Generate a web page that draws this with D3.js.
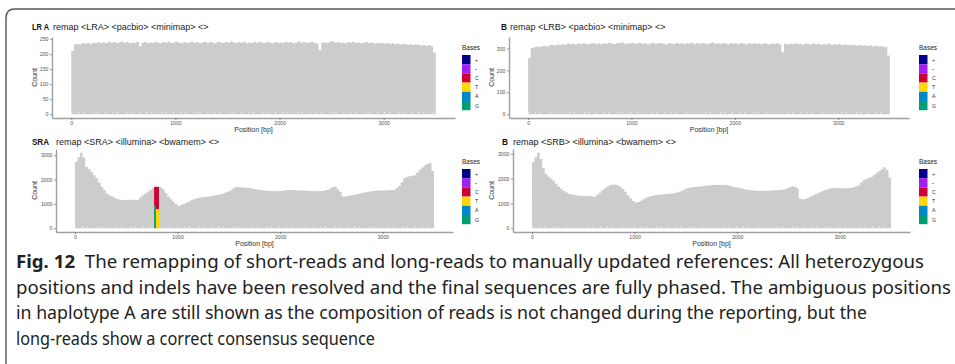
<!DOCTYPE html>
<html>
<head>
<meta charset="utf-8">
<script src="https://cdn.jsdelivr.net/npm/d3@7"></script>
<style>
  body { margin: 0; background: #fff; }
  svg text { font-family: 'Liberation Sans', Arial, sans-serif; }
</style>
</head>
<body>
<svg id="svg" width="955" height="364"></svg>
<script>
// bin width of each bar (bp), bars start at 0
var binWidth = 25;

var basesKeys = ['+', '-', 'C', 'T', 'A', 'G'];
var basesColors = ['#00008b', '#a020f0', '#cc0033', '#ffd700', '#0088c8', '#009e73'];

var xTicks = [0, 1000, 2000, 3000];
var yTicksLRA = [0, 50, 100, 150, 200, 250];
var yTicksLRB = [0, 100, 200, 300];
var yTicksSR = [0, 1000, 2000, 3000];

var countsLRA = [
  210, 232, 234, 233, 236, 235, 237, 234, 238, 236,
  240, 237, 239, 236, 241, 238, 240, 237, 239, 242,
  238, 240, 236, 239, 237, 241, 226, 238, 240, 236,
  239, 237, 241, 238, 236, 240, 238, 242, 237, 239,
  241, 238, 236, 240, 237, 239, 242, 238, 240, 236,
  239, 241, 237, 240, 238, 236, 241, 239, 237, 240,
  238, 242, 239, 237, 240, 238, 241, 236, 239, 237,
  240, 238, 242, 239, 237, 241, 238, 236, 240, 238,
  239, 237, 241, 238, 240, 236, 239, 242, 238, 240,
  237, 239, 241, 238, 236, 214, 238, 239, 237, 241,
  243, 238, 240, 237, 239, 236, 240, 238, 241, 237,
  239, 236, 238, 240, 237, 239, 235, 238, 236, 237,
  235, 237, 234, 236, 233, 235, 232, 234, 233, 231,
  233, 230, 232, 231, 229, 231, 228, 230, 226, 205
];

var countsLRB = [
  256, 302, 305, 308, 306, 310, 312, 309, 314, 316,
  313, 318, 315, 320, 317, 322, 319, 321, 318, 323,
  320, 324, 321, 318, 322, 325, 320, 323, 319, 324,
  321, 326, 322, 320, 325, 323, 327, 321, 324, 322,
  326, 320, 323, 325, 321, 324, 319, 322, 326, 320,
  323, 325, 321, 318, 324, 322, 320, 325, 321, 323,
  319, 324, 322, 326, 320, 323, 321, 325, 322, 319,
  324, 327, 321, 323, 320, 325, 322, 319, 324, 321,
  323, 320, 325, 322, 318, 324, 321, 323, 320, 322,
  319, 324, 321, 318, 322, 320, 323, 319, 283, 321,
  318, 322, 320, 324, 319, 321, 317, 322, 320, 318,
  323, 319, 321, 317, 320, 318, 322, 316, 319, 317,
  320, 316, 318, 315, 317, 314, 316, 313, 315, 312,
  314, 311, 313, 310, 312, 309, 311, 308, 306, 268
];

var countsSRA = [
  2730, 2930, 3100, 2900, 2520, 2430, 2320, 2180, 2050, 1880,
  1700, 1560, 1430, 1360, 1300, 1250, 1200, 1180, 1160, 1150,
  1160, 1170, 1170, 1160, 1160, 1260, 1360, 1430, 1500, 1580,
  1640, 1680, 1700, 1680, 1600, 1450, 1300, 1190, 1090, 980,
  910, 950, 1000, 1050, 1090, 1150, 1190, 1230, 1255, 1270,
  1280, 1290, 1300, 1320, 1350, 1370, 1390, 1420, 1460, 1500,
  1540, 1620, 1680, 1690, 1680, 1670, 1660, 1650, 1640, 1620,
  1600, 1580, 1570, 1550, 1540, 1530, 1530, 1520, 1530, 1530,
  1530, 1550, 1560, 1570, 1570, 1570, 1560, 1555, 1555, 1550,
  1540, 1530, 1530, 1520, 1530, 1530, 1530, 1550, 1570, 1630,
  1680, 1700, 1600, 1500, 1300, 1300, 1320, 1340, 1360, 1390,
  1410, 1440, 1460, 1480, 1500, 1520, 1530, 1540, 1550, 1550,
  1555, 1560, 1565, 1570, 1570, 1650, 1730, 1900, 2050, 2100,
  2140, 2160, 2180, 2280, 2390, 2500, 2590, 2650, 2690, 2350
];

var countsSRB = [
  2660, 2890, 3050, 2800, 2420, 2200, 2080, 2000, 1920, 1800,
  1680, 1590, 1500, 1440, 1380, 1360, 1340, 1320, 1310, 1300,
  1300, 1300, 1300, 1280, 1270, 1350, 1430, 1530, 1610, 1680,
  1740, 1760, 1770, 1740, 1680, 1580, 1470, 1330, 1200, 1100,
  1040, 1060, 1110, 1170, 1230, 1270, 1300, 1320, 1340, 1350,
  1360, 1370, 1380, 1390, 1400, 1410, 1430, 1470, 1510, 1560,
  1610, 1640, 1660, 1670, 1680, 1690, 1700, 1720, 1730, 1740,
  1750, 1750, 1760, 1750, 1740, 1760, 1740, 1710, 1680, 1660,
  1640, 1610, 1580, 1560, 1540, 1530, 1520, 1510, 1510, 1500,
  1510, 1510, 1510, 1520, 1530, 1530, 1540, 1550, 1570, 1600,
  1650, 1700, 1680, 1610, 1200, 1170, 1180, 1220, 1270, 1320,
  1370, 1410, 1450, 1500, 1540, 1580, 1610, 1620, 1620, 1610,
  1610, 1610, 1610, 1610, 1620, 1660, 1700, 1740, 1850, 1950,
  2000, 2040, 2080, 2160, 2240, 2310, 2380, 2460, 2350, 2050
];

// ambiguous positions in SR A, stacked base counts
var ambigPositions = [786, 804];
var ambigStacks = [
  { G: 920, C: 780 },
  { T: 790, C: 910 }
];
var ambigWidthPx = 3;

var captionBold = 'Fig. 12';
var captionLines = [
  'The remapping of short-reads and long-reads to manually updated references: All heterozygous',
  'positions and indels have been resolved and the final sequences are fully phased. The ambiguous positions',
  'in haplotype A are still shown as the composition of reads is not changed during the reporting, but the',
  'long-reads show a correct consensus sequence'
];

var svg = d3.select('#svg');

function drawFrame() {
    svg.append('path')
        .attr('d', 'M955,9 L15,9 Q6,9 6,18 L6,364')
        .attr('fill', 'none')
        .attr('stroke', '#555')
        .attr('stroke-width', 1.4);
}

function drawPanel(p) {
    var g = svg.append('g');
    var x = d3.scaleLinear().domain([-185, 3685]).range([p.left, p.right]);
    var y = d3.scaleLinear().domain(p.yDomain).range([p.bottom, p.top]);

    // bars, drawn as one stepped area so neighbouring bars have no seams
    var steps = p.counts.map(function(d, i) { return [i * binWidth, d]; });
    steps.push([p.counts.length * binWidth, p.counts[p.counts.length - 1]]);
    var area = d3.area()
        .curve(d3.curveStepAfter)
        .x(function(d) { return x(d[0]); })
        .y0(y(0))
        .y1(function(d) { return y(d[1]); });
    g.append('path')
        .datum(steps)
        .attr('d', area)
        .attr('fill', '#cccccc');

    // faint white speckle near the base
    g.append('line')
        .attr('x1', x(0)).attr('x2', x(p.counts.length * binWidth))
        .attr('y1', y(0) - 1.5).attr('y2', y(0) - 1.5)
        .attr('stroke', '#fff')
        .attr('stroke-width', 1)
        .attr('stroke-dasharray', '1,6,1,4,1,9,1,3,1,7');

    if (p.ambig) {
        p.ambig.positions.forEach(function(pos, i) {
            var stack = p.ambig.stacks[i];
            var base = 0;
            ['G', 'T', 'A', 'C', '-', '+'].forEach(function(k) {
                if (!stack[k]) return;
                g.append('rect')
                    .attr('x', x(pos) - p.ambig.width / 2)
                    .attr('width', p.ambig.width)
                    .attr('y', y(base + stack[k]))
                    .attr('height', y(base) - y(base + stack[k]))
                    .attr('fill', basesColors[basesKeys.indexOf(k)]);
                base += stack[k];
            });
        });
    }

    // axes
    var xAxis = g.append('g')
        .attr('transform', 'translate(0,' + p.bottom + ')')
        .call(d3.axisBottom(x).tickValues(xTicks).tickFormat(d3.format('d'))
            .tickSize(2).tickPadding(1.5).tickSizeOuter(0));
    var yAxis = g.append('g')
        .attr('transform', 'translate(' + p.left + ',0)')
        .call(d3.axisLeft(y).tickValues(p.yTicks).tickFormat(d3.format('d'))
            .tickSize(2).tickPadding(1.5).tickSizeOuter(0));
    [xAxis, yAxis].forEach(function(a) {
        a.select('.domain').attr('stroke', '#a0a0a0').attr('stroke-width', 1.4);
        a.selectAll('.tick line').attr('stroke', '#555').attr('stroke-width', 0.6);
        a.selectAll('.tick text')
            .attr('fill', '#555')
            .style('font-size', '5.2px');
    });

    // axis labels
    g.append('text')
        .attr('x', (p.left + p.right) / 2)
        .attr('y', p.bottom + 14)
        .attr('text-anchor', 'middle')
        .style('font-size', '7px')
        .attr('fill', '#333')
        .text('Position [bp]');
    g.append('text')
        .attr('transform', 'translate(' + p.countX + ',' + (p.top + p.bottom) / 2 + ') rotate(-90)')
        .attr('text-anchor', 'middle')
        .style('font-size', '7px')
        .attr('fill', '#333')
        .text('Count');

    // title
    g.append('text')
        .attr('x', p.tagX).attr('y', p.titleY)
        .attr('textLength', p.tagW)
        .attr('lengthAdjust', 'spacingAndGlyphs')
        .style('font-size', '9px')
        .style('font-weight', 'bold')
        .attr('fill', '#111')
        .text(p.tag);
    g.append('text')
        .attr('x', p.titleX).attr('y', p.titleY)
        .style('font-size', '9px')
        .attr('fill', '#222')
        .text(p.title);

    // legend
    var lg = g.append('g').attr('transform', 'translate(' + p.legendX + ',' + p.legendY + ')');
    lg.append('text')
        .attr('x', 0).attr('y', 0)
        .style('font-size', '6.5px')
        .attr('fill', '#222')
        .text('Bases');
    lg.selectAll('rect.key')
        .data(basesKeys)
        .enter()
        .append('rect')
        .attr('class', 'key')
        .attr('x', 0)
        .attr('y', function(d, i) { return 5 + i * 9.2; })
        .attr('width', 8.5)
        .attr('height', 9.2)
        .attr('fill', function(d, i) { return basesColors[i]; });
    lg.selectAll('text.key')
        .data(basesKeys)
        .enter()
        .append('text')
        .attr('class', 'key')
        .attr('x', 13)
        .attr('y', function(d, i) { return 5 + i * 9.2 + 6.5; })
        .style('font-size', '5.2px')
        .style('font-weight', function(d) { return d === '-' ? 'bold' : 'normal'; })
        .attr('fill', '#333')
        .text(function(d) { return d; });
}

function drawCaption() {
    var baselines = [268, 293.5, 319, 344.5];
    var ends = [924, 951, 867, 375];
    captionLines.forEach(function(line, i) {
        var t = svg.append('text')
            .attr('x', 16)
            .attr('y', baselines[i])
            .attr('textLength', ends[i] - 16)
            .attr('lengthAdjust', 'spacingAndGlyphs')
            .style('font-family', "'Noto Sans', sans-serif")
            .style('font-size', '17.5px')
            .attr('fill', '#222');
        if (i === 0) {
            t.append('tspan').style('font-weight', 'bold').text(captionBold);
            t.append('tspan').text('\u00a0 ' + line);
        } else {
            t.text(line);
        }
    });
}

drawFrame();
drawPanel({
    counts: countsLRA, left: 52, right: 455, top: 37, bottom: 118,
    yDomain: [-12.8, 257], yTicks: yTicksLRA, countX: 37,
    tag: 'LR A', tagX: 32, tagW: 17, title: 'remap <LRA> <pacbio> <minimap> <>', titleX: 53, titleY: 30,
    legendX: 462, legendY: 50
});
drawPanel({
    counts: countsLRB, left: 509, right: 909, top: 37, bottom: 118,
    yDomain: [-17, 352], yTicks: yTicksLRB, countX: 494,
    tag: 'B', tagX: 501, tagW: 6, title: 'remap <LRB> <pacbio> <minimap> <>', titleX: 510, titleY: 30,
    legendX: 919, legendY: 50
});
drawPanel({
    counts: countsSRA, left: 56, right: 453, top: 149, bottom: 232,
    yDomain: [-155, 3255], yTicks: yTicksSR, countX: 37,
    tag: 'SRA', tagX: 32, tagW: 17, title: 'remap <SRA> <illumina> <bwamem> <>', titleX: 56, titleY: 145,
    legendX: 462, legendY: 164,
    ambig: { positions: ambigPositions, stacks: ambigStacks, width: ambigWidthPx }
});
drawPanel({
    counts: countsSRB, left: 513, right: 910, top: 149, bottom: 232,
    yDomain: [-152, 3200], yTicks: yTicksSR, countX: 494,
    tag: 'B', tagX: 502, tagW: 6, title: 'remap <SRB> <illumina> <bwamem> <>', titleX: 513, titleY: 145,
    legendX: 919, legendY: 164
});
drawCaption();
</script>
</body>
</html>
